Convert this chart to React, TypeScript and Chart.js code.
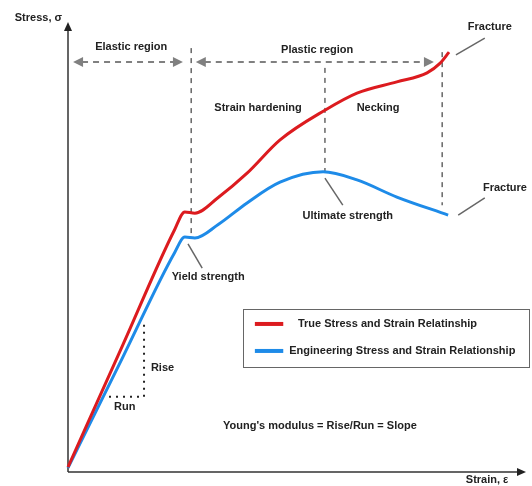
import React, { useEffect, useRef } from "react";
import { Chart, registerables } from "chart.js";
Chart.register(...registerables);

// True stress-strain curve (abstract units, 0..100)
const trueStrain = [0, 12, 23.3, 25.5, 27.7, 32.8, 39.1, 46.3, 56.1, 63.1, 71.8, 78.4, 81.2, 83.2];
const trueStress = [1.1, 28.3, 53.9, 57.8, 57.5, 61.0, 66.4, 73.8, 80.4, 84.2, 86.7, 88.7, 90.8, 93.3];
// Engineering stress-strain curve
const engStrain = [0, 12, 23.3, 25.5, 27.7, 32.8, 39.1, 46.3, 55.7, 63.1, 71.8, 83.0];
const engStress = [0.9, 25.6, 48.8, 52.2, 52.0, 55.0, 59.8, 64.4, 66.7, 64.9, 61.1, 57.1];

const seriesNames = ["True Stress and Strain Relatinship", "Engineering Stress and Strain Relationship"];
const seriesColors = ["#dc1b1f", "#1e8be8"];

// Vertical dashed region boundaries: [strain, stressTop, stressBottom]
const boundaries = [
  [26.9, 94.2, 52.0],
  [56.1, 89.8, 66.7],
  [81.7, 93.3, 59.3],
];
// Double-headed region arrows: [fromStrain, toStrain, stress]
const regionArrows = [
  [1.1, 25.1, 91.1],
  [27.9, 79.9, 91.1],
];
// Leader lines: [x1, y1, x2, y2]
const leaders = [
  [84.7, 92.7, 91.0, 96.4],
  [56.1, 65.3, 60.0, 59.3],
  [85.2, 57.1, 91.0, 60.9],
  [26.2, 50.7, 29.3, 45.3],
];
// Text labels: [text, x, y, align]
const texts: [string, number, number, CanvasTextAlign][] = [
  ["Stress, σ", -1.3, 100.9, "right"],
  ["Elastic region", 13.8, 94.4, "center"],
  ["Plastic region", 54.4, 93.8, "center"],
  ["Fracture", 92.1, 98.9, "center"],
  ["Strain hardening", 41.5, 80.9, "center"],
  ["Necking", 67.7, 80.9, "center"],
  ["Ultimate strength", 61.1, 56.9, "center"],
  ["Fracture", 95.4, 63.1, "center"],
  ["Yield strength", 30.6, 43.3, "center"],
  ["Rise", 18.1, 23.1, "left"],
  ["Run", 12.4, 14.4, "center"],
  ["Young's modulus = Rise/Run = Slope", 55.0, 10.2, "center"],
  ["Strain, ε", 91.5, -1.8, "center"],
];
// Rise/run triangle
const riseRun = { x1: 8.3, x2: 16.6, y1: 16.7, y2: 32.7 };
// Legend box
const legendBox = { x1: 38.2, x2: 100.7, y1: 36.2, y2: 23.3, rows: [32.9, 26.9], sampleX: [40.8, 47.0], textX: [50.2, 48.3] };

const FONT = "bold 11px 'Liberation Sans', Arial, sans-serif";

const annotPlugin = {
  id: "annot",
  beforeDatasetsDraw(chart: any) {
    const ctx = chart.ctx as CanvasRenderingContext2D;
    const X = (v: number) => chart.scales.x.getPixelForValue(v);
    const Y = (v: number) => chart.scales.y.getPixelForValue(v);
    ctx.save();
    // axes
    ctx.strokeStyle = "#333";
    ctx.fillStyle = "#222";
    ctx.lineWidth = 1.5;
    ctx.beginPath();
    ctx.moveTo(X(0), Y(0));
    ctx.lineTo(X(0), Y(100) + 6);
    ctx.moveTo(X(0), Y(0));
    ctx.lineTo(X(100) - 6, Y(0));
    ctx.stroke();
    ctx.beginPath();
    ctx.moveTo(X(0), Y(100));
    ctx.lineTo(X(0) - 4, Y(100) + 9);
    ctx.lineTo(X(0) + 4, Y(100) + 9);
    ctx.closePath();
    ctx.fill();
    ctx.beginPath();
    ctx.moveTo(X(100), Y(0));
    ctx.lineTo(X(100) - 9, Y(0) - 4);
    ctx.lineTo(X(100) - 9, Y(0) + 4);
    ctx.closePath();
    ctx.fill();

    // vertical dashed boundaries
    ctx.strokeStyle = "#666";
    ctx.lineWidth = 1.5;
    ctx.setLineDash([5, 5]);
    for (const [x, t, b] of boundaries) {
      ctx.beginPath();
      ctx.moveTo(X(x), Y(t));
      ctx.lineTo(X(x), Y(b));
      ctx.stroke();
    }
    // region arrows
    ctx.strokeStyle = "#808080";
    ctx.fillStyle = "#808080";
    ctx.lineWidth = 2;
    for (const [a, b, y] of regionArrows) {
      const xa = X(a), xb = X(b), yy = Y(y);
      ctx.setLineDash([6, 5]);
      ctx.beginPath();
      ctx.moveTo(xa + 9, yy);
      ctx.lineTo(xb - 9, yy);
      ctx.stroke();
      ctx.setLineDash([]);
      ctx.beginPath();
      ctx.moveTo(xa, yy);
      ctx.lineTo(xa + 10, yy - 5);
      ctx.lineTo(xa + 10, yy + 5);
      ctx.closePath();
      ctx.fill();
      ctx.beginPath();
      ctx.moveTo(xb, yy);
      ctx.lineTo(xb - 10, yy - 5);
      ctx.lineTo(xb - 10, yy + 5);
      ctx.closePath();
      ctx.fill();
    }
    // rise/run dotted
    ctx.strokeStyle = "#222";
    ctx.lineWidth = 2;
    ctx.setLineDash([2, 5]);
    ctx.beginPath();
    ctx.moveTo(X(riseRun.x2), Y(riseRun.y2));
    ctx.lineTo(X(riseRun.x2), Y(riseRun.y1));
    ctx.lineTo(X(riseRun.x1), Y(riseRun.y1));
    ctx.stroke();
    ctx.setLineDash([]);
    ctx.restore();
  },
  afterDatasetsDraw(chart: any) {
    const ctx = chart.ctx as CanvasRenderingContext2D;
    const X = (v: number) => chart.scales.x.getPixelForValue(v);
    const Y = (v: number) => chart.scales.y.getPixelForValue(v);
    ctx.save();
    // leaders
    ctx.strokeStyle = "#666";
    ctx.lineWidth = 1.5;
    for (const [x1, y1, x2, y2] of leaders) {
      ctx.beginPath();
      ctx.moveTo(X(x1), Y(y1));
      ctx.lineTo(X(x2), Y(y2));
      ctx.stroke();
    }
    // texts
    ctx.font = FONT;
    ctx.fillStyle = "#222";
    ctx.textBaseline = "middle";
    for (const [t, x, y, al] of texts) {
      ctx.textAlign = al;
      ctx.fillText(t, X(x), Y(y));
    }
    // legend box
    ctx.strokeStyle = "#666";
    ctx.lineWidth = 1;
    ctx.strokeRect(
      Math.round(X(legendBox.x1)) + 0.5,
      Math.round(Y(legendBox.y1)) + 0.5,
      Math.round(X(legendBox.x2) - X(legendBox.x1)),
      Math.round(Y(legendBox.y2) - Y(legendBox.y1))
    );
    ctx.lineWidth = 4;
    ctx.textAlign = "left";
    legendBox.rows.forEach((ry, i) => {
      ctx.strokeStyle = seriesColors[i];
      ctx.beginPath();
      ctx.moveTo(X(legendBox.sampleX[0]), Y(ry));
      ctx.lineTo(X(legendBox.sampleX[1]), Y(ry));
      ctx.stroke();
      ctx.fillStyle = "#222";
      ctx.fillText(seriesNames[i], X(legendBox.textX[i]), Y(ry));
    });
    ctx.restore();
  },
};

export default function App() {
  const ref = useRef<HTMLCanvasElement>(null);
  useEffect(() => {
    if (!ref.current) return;
    const chart = new Chart(ref.current, {
      type: "line",
      data: {
        datasets: [
          {
            label: seriesNames[0],
            data: trueStrain.map((x, i) => ({ x, y: trueStress[i] })),
            borderColor: seriesColors[0],
            borderWidth: 3,
            pointRadius: 0,
            cubicInterpolationMode: "monotone",
            clip: false as any,
          },
          {
            label: seriesNames[1],
            data: engStrain.map((x, i) => ({ x, y: engStress[i] })),
            borderColor: seriesColors[1],
            borderWidth: 3,
            pointRadius: 0,
            cubicInterpolationMode: "monotone",
            clip: false as any,
          },
        ],
      },
      options: {
        animation: false,
        responsive: true,
        maintainAspectRatio: false,
        layout: { padding: { left: 68, right: 6, top: 22, bottom: 14 } },
        scales: {
          x: { type: "linear", min: 0, max: 100, display: false },
          y: { type: "linear", min: 0, max: 100, display: false },
        },
        plugins: { legend: { display: false }, tooltip: { enabled: false } },
      },
      plugins: [annotPlugin],
    });
    return () => chart.destroy();
  }, []);
  return (
    <div style={{ position: "fixed", left: 0, top: 0, width: 532, height: 486, background: "#fff" }}>
      <canvas ref={ref} />
    </div>
  );
}
